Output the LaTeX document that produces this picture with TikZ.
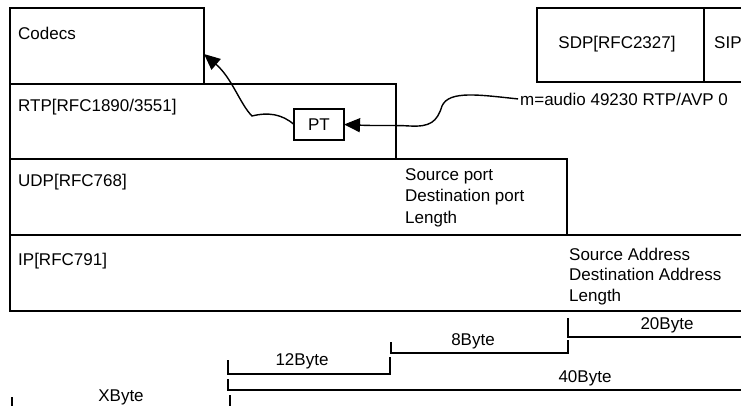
\documentclass[tikz,border=0pt]{standalone}
\usepackage{fontspec}
\setmainfont{Liberation Sans}
\usetikzlibrary{arrows.meta}
\begin{document}
\begin{tikzpicture}[x=1pt,y=-1pt,
  box/.style={draw, line width=1.5pt, rectangle, inner sep=0pt, outer sep=0pt, anchor=north west},
  ptbox/.style={draw, line width=1.5pt, rectangle, inner sep=0pt, outer sep=0pt, minimum width=50pt, minimum height=31pt, font=\fontsize{17}{20}\selectfont},
  txt/.style={anchor=base west, inner sep=0pt, font=\fontsize{17}{20}\selectfont},
  ctxt/.style={anchor=base, inner sep=0pt, font=\fontsize{17}{20}\selectfont},
  ln/.style={line width=1.5pt},
  arr/.style={line width=1.4pt, -{Triangle[length=16pt,width=14pt]}}]
\useasboundingbox (0,0) rectangle (741,405);
\clip (0,0) rectangle (741,405);
% layer boxes
\node[box, minimum width=194pt, minimum height=76pt] (codecs) at (10,8) {};
\node[box, minimum width=386pt, minimum height=75pt] (rtp) at (10,84) {};
\node[box, minimum width=557pt, minimum height=76pt] (udp) at (10,159) {};
\node[box, minimum width=760pt, minimum height=76pt] (ip) at (10,235) {};
\node[box, minimum width=167pt, minimum height=74pt] (sdp) at (537,8) {};
\node[box, minimum width=60pt, minimum height=74pt] (sip) at (704,8) {};
% labels
\node[txt] (tcodecs) at (18,39) {Codecs};
\node[txt] (trtp) at (18,111) {RTP[RFC1890/3551]};
\node[txt] (tudp) at (18,186) {UDP[RFC768]};
\node[txt] (tip) at (18,265) {IP[RFC791]};
\node[ctxt] (tsdp) at (617,48) {SDP[RFC2327]};
\node[txt] (tsip) at (714,48) {SIP};
\node[txt] (sp1) at (405,180) {Source port};
\node[txt] (sp2) at (405,201) {Destination port};
\node[txt] (sp3) at (405,223) {Length};
\node[txt] (sa1) at (569,260) {Source Address};
\node[txt] (sa2) at (569,280) {Destination Address};
\node[txt] (sa3) at (569,301) {Length};
\node[txt, inner sep=2pt] (mtext) at (518,105) {m=audio 49230 RTP/AVP 0};
\node[ptbox] (pt) at (319,124.5) {PT};
\coordinate (tipA) at (204,54);
% arrows
\draw[arr] (mtext.west) .. controls (480,95) and (449,90) .. (442,106)
  .. controls (437,122) and (430,127) .. (410,126)
  .. controls (395,125) and (380,126) .. (pt.east);
\draw[arr] (pt.west) .. controls (282,114) and (268,112) .. (252,116)
  .. controls (240,104) and (232,78) .. (tipA);
% byte brackets
\draw[ln] (568,318) -- (568,337) -- (745,337);
\node[ctxt] (b20) at (667,329) {20Byte};
\draw[ln] (391,342) -- (391,353) -- (568,353) -- (568,340);
\node[ctxt] (b8) at (473,345) {8Byte};
\draw[ln] (228,360) -- (228,374) -- (390,374) -- (390,357);
\node[ctxt] (b12) at (302,365) {12Byte};
\draw[ln] (228,379) -- (228,390) -- (745,390);
\node[ctxt] (b40) at (585,382) {40Byte};
\draw[ln] (12,397) -- (12,410);
\draw[ln] (230,395) -- (230,410);
\node[ctxt] (bx) at (121,401) {XByte};
\end{tikzpicture}
\end{document}
